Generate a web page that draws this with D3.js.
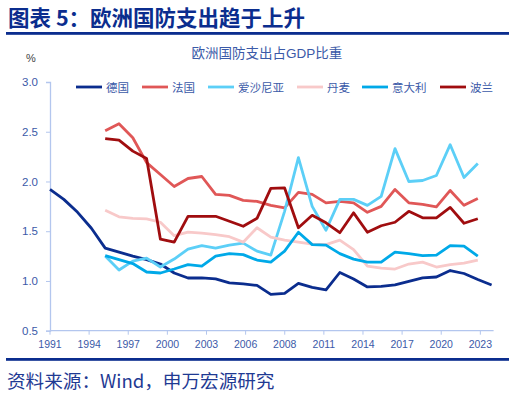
<!DOCTYPE html>
<html>
<head>
<meta charset="utf-8">
<script src="https://cdn.jsdelivr.net/npm/d3@7"></script>
<style>
  body { margin: 0; background: #fff; }
  svg { display: block; font-family: "Liberation Sans", "Noto Sans CJK SC", sans-serif; }
</style>
</head>
<body>
<div id="chart"></div>
<script>
// ---- data ----
const germanyYears = d3.range(1991, 2024);
const otherYears = d3.range(1995, 2023);

const germany = [1.92, 1.82, 1.69, 1.53, 1.33, 1.29, 1.25, 1.215, 1.17, 1.08, 1.03, 1.03, 1.02, 0.98, 0.97, 0.955, 0.865, 0.875, 0.975, 0.935, 0.91, 1.085, 1.02, 0.94, 0.945, 0.96, 0.995, 1.03, 1.04, 1.105, 1.075, 1.015, 0.96];
const france = [2.51, 2.58, 2.44, 2.19, 2.07, 1.95, 2.03, 2.05, 1.87, 1.86, 1.81, 1.80, 1.76, 1.735, 1.89, 1.87, 1.785, 1.80, 1.785, 1.69, 1.75, 1.92, 1.785, 1.77, 1.745, 1.91, 1.76, 1.83];
const estonia = [1.25, 1.11, 1.20, 1.23, 1.14, 1.22, 1.32, 1.355, 1.33, 1.36, 1.38, 1.30, 1.26, 1.70, 2.24, 1.75, 1.51, 1.82, 1.82, 1.76, 1.85, 2.33, 2.00, 2.01, 2.06, 2.37, 2.04, 2.18];
const denmark = [1.71, 1.645, 1.63, 1.625, 1.59, 1.455, 1.49, 1.48, 1.465, 1.445, 1.39, 1.535, 1.44, 1.41, 1.39, 1.37, 1.365, 1.41, 1.315, 1.15, 1.13, 1.12, 1.17, 1.19, 1.14, 1.165, 1.18, 1.21];
const italy = [1.255, 1.215, 1.175, 1.09, 1.08, 1.12, 1.165, 1.15, 1.25, 1.275, 1.265, 1.21, 1.19, 1.30, 1.49, 1.365, 1.36, 1.275, 1.22, 1.19, 1.19, 1.29, 1.275, 1.255, 1.26, 1.355, 1.35, 1.25];
const poland = [2.43, 2.415, 2.305, 2.23, 1.42, 1.39, 1.65, 1.65, 1.65, 1.60, 1.55, 1.63, 1.93, 1.935, 1.535, 1.66, 1.585, 1.485, 1.685, 1.49, 1.555, 1.59, 1.70, 1.635, 1.635, 1.74, 1.58, 1.625];

const seriesNames = ["德国", "法国", "爱沙尼亚", "丹麦", "意大利", "波兰"];
const xTickLabels = ["1991", "1994", "1997", "2000", "2003", "2006", "2008", "2011", "2014", "2017", "2020", "2023"];
const yTicks = [0.5, 1.0, 1.5, 2.0, 2.5, 3.0];

// ---- layout ----
const W = 513, H = 395;
const blue = "#0b2d8e";
const axisText = "#3b5aa8";
const colors = ["#0b2d8e", "#e05757", "#5ccff7", "#f8c9c9", "#00a9e8", "#a00d0f"];

const series = [
  { name: seriesNames[0], years: germanyYears, values: germany },
  { name: seriesNames[1], years: otherYears, values: france },
  { name: seriesNames[2], years: otherYears, values: estonia },
  { name: seriesNames[3], years: otherYears, values: denmark },
  { name: seriesNames[4], years: otherYears, values: italy },
  { name: seriesNames[5], years: otherYears, values: poland }
];

const svg = d3.select("#chart").append("svg")
  .attr("width", W).attr("height", H);
svg.append("rect").attr("width", W).attr("height", H).attr("fill", "#fff");

// header
svg.append("text")
  .attr("x", 8).attr("y", 26)
  .attr("fill", blue)
  .attr("font-size", 21.5).attr("font-weight", "bold")
  .attr("font-family", "'Noto Sans CJK SC', sans-serif")
  .text("图表 5：欧洲国防支出趋于上升");
svg.append("rect").attr("x", 6).attr("y", 32).attr("width", 503).attr("height", 2.8).attr("fill", blue);

// footer
svg.append("rect").attr("x", 6).attr("y", 358).attr("width", 503).attr("height", 2.8).attr("fill", blue);
svg.append("text")
  .attr("x", 7).attr("y", 388)
  .attr("fill", "#1f3a93")
  .attr("font-size", 18.6)
  .attr("font-family", "'Noto Sans CJK SC', sans-serif")
  .text("资料来源：Wind，申万宏源研究");

// chart title and unit
svg.append("text")
  .attr("x", 267).attr("y", 58)
  .attr("text-anchor", "middle")
  .attr("fill", axisText)
  .attr("font-size", 13.5)
  .text("欧洲国防支出占GDP比重");
svg.append("text")
  .attr("x", 31).attr("y", 62)
  .attr("text-anchor", "middle")
  .attr("fill", "#444")
  .attr("font-size", 11)
  .text("%");

// scales
const x = d3.scaleLinear().domain([1991, 2023]).range([50, 491.6]);
const y = d3.scaleLinear().domain([0.5, 3.0]).range([330.7, 82]);
const tickStep = 2.835;

// y axis
const yAxis = svg.append("g")
  .attr("transform", "translate(50,0)")
  .call(d3.axisLeft(y).tickValues(yTicks).tickFormat(d3.format(".1f")).tickSize(4).tickPadding(8));
yAxis.select(".domain").attr("stroke", "#b3c6ee").attr("stroke-width", 1.3);
yAxis.selectAll(".tick line").attr("stroke", "#b3c6ee");
yAxis.selectAll("text").attr("fill", axisText).attr("font-size", 11.5)
  .attr("font-family", "'Liberation Sans', sans-serif");

// x axis
const xAxisG = svg.append("g").attr("transform", `translate(0,${y(0.5)})`);
xAxisG.append("line")
  .attr("x1", x(1991)).attr("x2", x(2023) + 2)
  .attr("stroke", "#b3c6ee").attr("stroke-width", 1.3);
const xt = xAxisG.selectAll(".xt").data(xTickLabels).enter().append("g")
  .attr("class", "xt")
  .attr("transform", (d, i) => `translate(${x(1991 + i * tickStep)},0)`);
xt.append("line").attr("y2", 4).attr("stroke", "#b3c6ee");
xt.append("text")
  .attr("y", 17)
  .attr("text-anchor", "middle")
  .attr("fill", axisText)
  .attr("font-size", 10.5)
  .text(d => d);

// lines
const line = d3.line()
  .x(d => x(d.year))
  .y(d => y(d.value));

svg.append("g").selectAll("path")
  .data(series)
  .enter().append("path")
  .attr("d", s => line(s.values.map((v, i) => ({ year: s.years[i], value: v }))))
  .attr("fill", "none")
  .attr("stroke", (s, i) => colors[i])
  .attr("stroke-width", 2.8)
  .attr("stroke-linejoin", "round");

// legend
const legendX = [76, 142, 208, 297, 362, 440];
const legend = svg.append("g").selectAll("g")
  .data(series)
  .enter().append("g")
  .attr("transform", (d, i) => `translate(${legendX[i]},87)`);
legend.append("line")
  .attr("x1", 0).attr("x2", 26)
  .attr("stroke", (d, i) => colors[i])
  .attr("stroke-width", 2.8);
legend.append("text")
  .attr("x", 30).attr("y", 4.5)
  .attr("fill", axisText)
  .attr("font-size", 11.5)
  .text(d => d.name);
</script>
</body>
</html>
